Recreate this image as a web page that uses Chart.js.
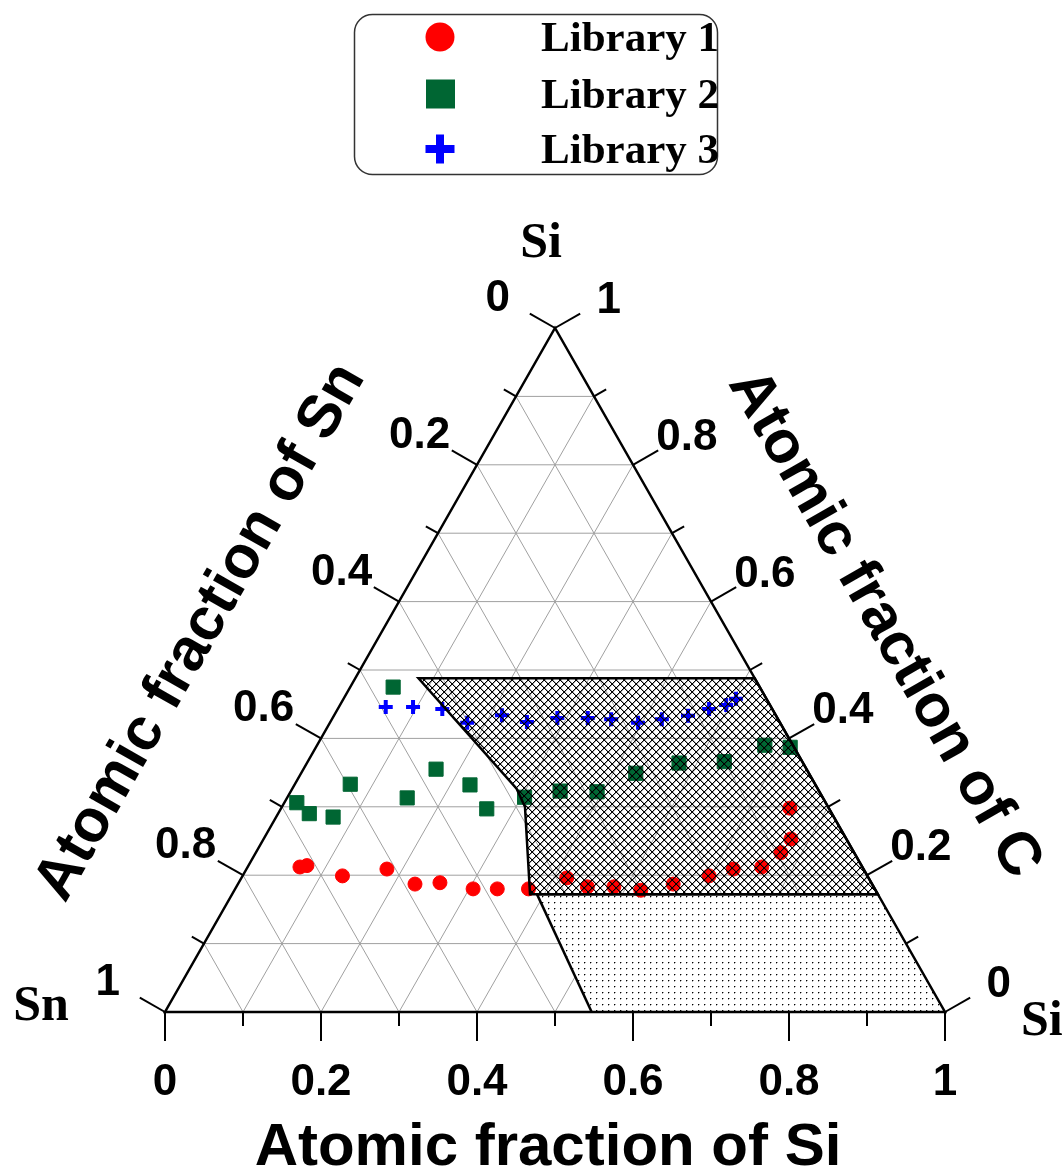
<!DOCTYPE html>
<html><head><meta charset="utf-8">
<script src="https://cdn.jsdelivr.net/npm/chart.js@4.4.1/dist/chart.umd.min.js"></script>
<style>html,body{margin:0;padding:0;background:#fff;}canvas{display:block;}</style>
</head><body>
<canvas id="c" width="1063" height="1172"></canvas>
<script>
// Ternary compositions: atomic fraction of Si (bottom axis) and C (right axis); Sn = 1 - Si - C
const seriesNames = ['Library 1', 'Library 2', 'Library 3'];
const lib1Si = [0.067,0.075,0.128,0.180,0.227,0.258,0.305,0.336,0.376,0.417,0.450,0.484,0.521,0.558,0.598,0.624,0.659,0.673,0.676,0.652];
const lib1C  = [0.212,0.214,0.199,0.209,0.187,0.189,0.180,0.180,0.180,0.196,0.183,0.183,0.178,0.187,0.199,0.209,0.212,0.233,0.253,0.298];
const lib2Si = [0.055,0.016,0.040,0.073,0.071,0.154,0.170,0.225,0.264,0.304,0.345,0.393,0.429,0.477,0.534,0.574,0.608];
const lib2C  = [0.475,0.306,0.290,0.285,0.333,0.313,0.355,0.332,0.297,0.314,0.323,0.322,0.349,0.364,0.366,0.390,0.387];
const lib3Si = [0.060,0.095,0.134,0.176,0.215,0.252,0.288,0.327,0.358,0.395,0.423,0.454,0.476,0.495,0.503];
const lib3C  = [0.446,0.446,0.443,0.423,0.434,0.424,0.430,0.430,0.428,0.423,0.428,0.433,0.443,0.449,0.458];
// shaded composition regions (Si, C)
const hatchSi = [0.081,0.512,0.828,0.382,0.3115,0.287];
const hatchC  = [0.488,0.488,0.172,0.172,0.300,0.327];
const dotSi = [0.391,0.828,1.0,0.547];
const dotC  = [0.172,0.172,0.0,0.0];
// axis ticks
const tickValues = [0,0.1,0.2,0.3,0.4,0.5,0.6,0.7,0.8,0.9,1];
const tickLabels = ['0','','0.2','','0.4','','0.6','','0.8','','1'];
const axisTitles = ['Atomic fraction of Si','Atomic fraction of Sn','Atomic fraction of C'];
const vertexLabels = ['Si','Sn','Si'];

const toXY = (si, c) => ({x: si + c / 2, y: c});
const colors = ['#ff0000', '#006633', '#0000ff'];

function setPx(img, s, x, y, a) {
  x = ((x % s) + s) % s; y = ((y % s) + s) % s;
  const o = (y * s + x) * 4;
  img.data[o] = 0; img.data[o+1] = 0; img.data[o+2] = 0;
  img.data[o+3] = Math.max(img.data[o+3], Math.round(a * 255));
}
function makeHatch(ctx) {
  const s = 8, c = document.createElement('canvas'); c.width = s; c.height = s;
  const g = c.getContext('2d'); const img = g.createImageData(s, s);
  for (let i = 0; i < s; i++) {
    setPx(img, s, i, i, 1); setPx(img, s, i + 1, i, 0.35);
    setPx(img, s, s - 1 - i, i, 1); setPx(img, s, s - i, i, 0.35);
  }
  g.putImageData(img, 0, 0);
  return ctx.createPattern(c, 'repeat');
}
function makeDots(ctx) {
  const s = 6, c = document.createElement('canvas'); c.width = s; c.height = s;
  const g = c.getContext('2d'); g.fillStyle = '#fff'; g.fillRect(0,0,s,s);
  g.fillStyle = '#000'; g.fillRect(2,2,1,1);
  g.fillStyle = 'rgba(0,0,0,0.35)'; g.fillRect(3,2,1,1); g.fillRect(2,3,1,1);
  return ctx.createPattern(c, 'repeat');
}

const ternary = {
  id: 'ternary',
  beforeDatasetsDraw(chart) {
    const ctx = chart.ctx, xs = chart.scales.x, ys = chart.scales.y;
    const P = (si, c) => [xs.getPixelForValue(si + c / 2), ys.getPixelForValue(c)];
    const seg = (a, b) => { ctx.beginPath(); ctx.moveTo(a[0], a[1]); ctx.lineTo(b[0], b[1]); ctx.stroke(); };
    ctx.save();
    ctx.strokeStyle = '#a0a0a0'; ctx.lineWidth = 1;
    for (let k = 1; k < 10; k++) {
      const v = tickValues[k];
      seg(P(0, v), P(1 - v, v));
      seg(P(v, 0), P(v, 1 - v));
      seg(P(1 - v, 0), P(0, 1 - v));
    }
    ctx.beginPath();
    dotSi.forEach((s, i) => { const p = P(s, dotC[i]); i ? ctx.lineTo(p[0], p[1]) : ctx.moveTo(p[0], p[1]); });
    ctx.closePath();
    ctx.fillStyle = makeDots(ctx); ctx.fill();
    ctx.restore();
  },
  afterDatasetsDraw(chart) {
    const ctx = chart.ctx, xs = chart.scales.x, ys = chart.scales.y;
    const P = (si, c) => [xs.getPixelForValue(si + c / 2), ys.getPixelForValue(c)];
    const seg = (a, b) => { ctx.beginPath(); ctx.moveTo(a[0], a[1]); ctx.lineTo(b[0], b[1]); ctx.stroke(); };
    ctx.save();
    ctx.beginPath();
    hatchSi.forEach((s, i) => { const p = P(s, hatchC[i]); i ? ctx.lineTo(p[0], p[1]) : ctx.moveTo(p[0], p[1]); });
    ctx.closePath();
    ctx.fillStyle = makeHatch(ctx); ctx.fill();
    ctx.strokeStyle = '#000'; ctx.lineWidth = 2.5; ctx.lineJoin = 'miter'; ctx.stroke();
    seg(P(dotSi[0], dotC[0]), P(dotSi[3], dotC[3]));
    seg(P(dotSi[0], dotC[0]), P(dotSi[1], dotC[1]));
    const A = P(0, 0), B = P(1, 0), T = P(0, 1);
    ctx.lineWidth = 2.5;
    ctx.beginPath(); ctx.moveTo(A[0], A[1]); ctx.lineTo(B[0], B[1]); ctx.lineTo(T[0], T[1]); ctx.closePath(); ctx.stroke();
    const lx = T[0] - A[0], ly = T[1] - A[1], ll = Math.hypot(lx, ly);
    const nL = [ly / ll, -lx / ll];
    const rx = B[0] - T[0], ry = B[1] - T[1], rl = Math.hypot(rx, ry);
    const nR = [ry / rl, -rx / rl];
    ctx.lineWidth = 2;
    ctx.fillStyle = '#000';
    ctx.font = 'bold 44px "Liberation Sans", Arial, sans-serif';
    ctx.textAlign = 'center'; ctx.textBaseline = 'alphabetic';
    const capHalf = 0.358 * 44;
    tickValues.forEach((v, k) => {
      const len = k % 2 === 0 ? 29 : 14;
      const pb = P(v, 0);
      seg(pb, [pb[0], pb[1] + len]);
      const pl = P(0, 1 - v);
      seg(pl, [pl[0] + nL[0] * len, pl[1] + nL[1] * len]);
      const pr = P(1 - v, v);
      seg(pr, [pr[0] + nR[0] * len, pr[1] + nR[1] * len]);
      const lab = tickLabels[k];
      if (lab) {
        ctx.fillText(lab, pb[0], pb[1] + 67 + capHalf);
        ctx.fillText(lab, pl[0] + nL[0] * 66, pl[1] + nL[1] * 66 + capHalf);
        ctx.fillText(lab, pr[0] + nR[0] * 62, pr[1] + nR[1] * 62 + capHalf);
      }
    });
    ctx.font = 'bold 60px "Liberation Sans", Arial, sans-serif';
    ctx.fillText(axisTitles[0], 548, 1165);
    const angL = Math.atan2(ly, lx), angR = Math.atan2(ry, rx);
    ctx.save(); ctx.translate(197, 630); ctx.rotate(angL); ctx.fillText(axisTitles[1], 0, 21); ctx.restore();
    ctx.save(); ctx.translate(888, 622); ctx.rotate(angR); ctx.fillText(axisTitles[2], 0, 21); ctx.restore();
    ctx.font = 'bold 50px "Liberation Serif", "Times New Roman", serif';
    ctx.textAlign = 'center';
    ctx.fillText(vertexLabels[0], 541, 257);
    ctx.fillText(vertexLabels[1], 41, 1020);
    ctx.textAlign = 'left';
    ctx.fillText(vertexLabels[2], 1021, 1035);
    ctx.lineWidth = 1.5; ctx.strokeStyle = '#333';
    ctx.beginPath(); ctx.roundRect(354.5, 14.5, 363, 160, 18); ctx.stroke();
    const rowsY = [37, 94, 149];
    ctx.fillStyle = colors[0]; ctx.beginPath(); ctx.arc(440, rowsY[0], 14.5, 0, Math.PI * 2); ctx.fill();
    ctx.fillStyle = colors[1]; ctx.fillRect(426, rowsY[1] - 14.5, 29, 29);
    ctx.fillStyle = colors[2]; ctx.fillRect(425.5, rowsY[2] - 4, 29, 8); ctx.fillRect(436, rowsY[2] - 14.5, 8, 29);
    ctx.fillStyle = '#000'; ctx.font = 'bold 43px "Liberation Serif", "Times New Roman", serif';
    seriesNames.forEach((n, i) => ctx.fillText(n, 541, rowsY[i] + 14));
    ctx.restore();
  }
};

new Chart(document.getElementById('c'), {
  type: 'scatter',
  data: {
    datasets: [
      {label: seriesNames[0], data: lib1Si.map((s, i) => toXY(s, lib1C[i])), pointStyle: 'circle', pointRadius: 7, backgroundColor: colors[0], borderColor: colors[0], borderWidth: 1, clip: false},
      {label: seriesNames[1], data: lib2Si.map((s, i) => toXY(s, lib2C[i])), pointStyle: 'rect', pointRadius: 10, backgroundColor: colors[1], borderColor: colors[1], borderWidth: 1, clip: false},
      {label: seriesNames[2], data: lib3Si.map((s, i) => toXY(s, lib3C[i])), pointStyle: 'cross', pointRadius: 7, backgroundColor: colors[2], borderColor: colors[2], borderWidth: 4, clip: false}
    ]
  },
  options: {
    responsive: false, animation: false, devicePixelRatio: 1,
    layout: {padding: {left: 165, right: 118, top: 328, bottom: 160}},
    plugins: {legend: {display: false}, tooltip: {enabled: false}},
    scales: {
      x: {type: 'linear', min: 0, max: 1, display: false},
      y: {type: 'linear', min: 0, max: 1, display: false}
    }
  },
  plugins: [ternary]
});
</script>
</body></html>
